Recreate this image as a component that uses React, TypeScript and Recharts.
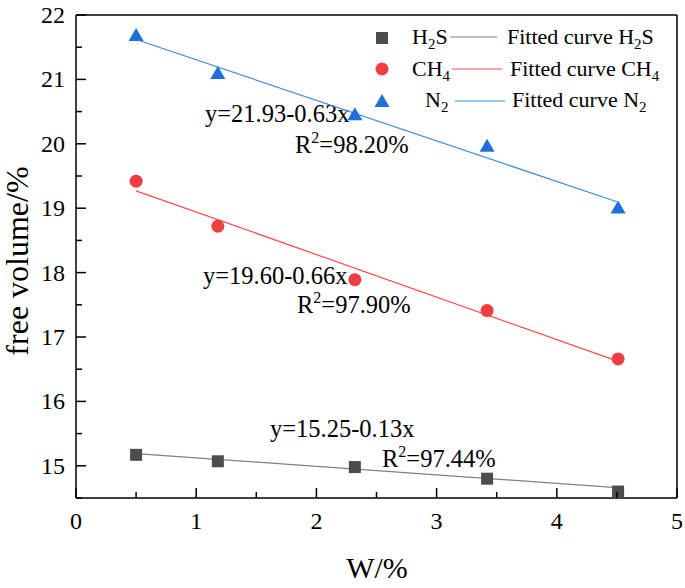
import React from 'react'
import {ComposedChart, Customized, Line, ReferenceLine, Scatter, XAxis, YAxis} from 'recharts'

const xValues = [0.5, 1.18, 2.32, 3.42, 4.51]
const h2sValues = [15.17, 15.07, 14.98, 14.80, 14.60]
const ch4Values = [19.42, 18.72, 17.89, 17.41, 16.66]
const n2Values = [21.69, 21.10, 20.46, 19.97, 19.01]

const fitX = [0.5, 4.5]
const fitH2S = [15.19, 14.66]
const fitCH4 = [19.27, 16.63]
const fitN2 = [21.62, 19.10]

const xTicks = [0, 0.5, 1, 1.5, 2, 2.5, 3, 3.5, 4, 4.5, 5]
const yTicks = [14.5, 15, 15.5, 16, 16.5, 17, 17.5, 18, 18.5, 19, 19.5, 20, 20.5, 21, 21.5, 22]

const FONT = '"Liberation Serif", "Times New Roman", serif'

const toPoints = (xs: number[], ys: number[]) => xs.map((x, i) => ({x, y: ys[i]}))

const XTick = (props: any) => {
    const {x, y, payload} = props
    const major = Number.isInteger(payload.value)
    return (
        <g>
            <line x1={x} x2={x} y1={y} y2={y - (major ? 10 : 6)} stroke='#000' strokeWidth={1.5}/>
            {major && <text x={x} y={y + 31} textAnchor='middle' fontFamily={FONT} fontSize={24} fill='#000'>{payload.value}</text>}
        </g>
    )
}

const YTick = (props: any) => {
    const {x, y, payload} = props
    const major = Number.isInteger(payload.value)
    return (
        <g>
            <line x1={x} x2={x + (major ? 10 : 6)} y1={y} y2={y} stroke='#000' strokeWidth={1.5}/>
            {major && <text x={x - 11} y={y + 8} textAnchor='end' fontFamily={FONT} fontSize={24} fill='#000'>{payload.value}</text>}
        </g>
    )
}

const Square = (props: any) => <rect x={props.cx - 6} y={props.cy - 6} width={12} height={12} fill='#4d4d4d'/>
const Dot = (props: any) => <circle cx={props.cx} cy={props.cy} r={6.5} fill='#ef3e42'/>
const Tri = (props: any) => (
    <polygon points={`${props.cx},${props.cy - 7} ${props.cx - 7.5},${props.cy + 6} ${props.cx + 7.5},${props.cy + 6}`} fill='#1e6fdc'/>
)

// text with a subscript, then optional trailing text
const SubText = (props: {x: number, y: number, pre: string, sub: string, post?: string}) => (
    <text x={props.x} y={props.y} fontSize={22}>
        {props.pre}
        <tspan dy={5} fontSize={15}>{props.sub}</tspan>
        {props.post && <tspan dy={-5}>{props.post}</tspan>}
    </text>
)

const RSquared = (props: {x: number, y: number, value: string}) => (
    <text x={props.x} y={props.y} fontSize={24.5}>
        R<tspan dy={-10} fontSize={16}>2</tspan><tspan dy={10}>{'=' + props.value}</tspan>
    </text>
)

const Overlay = () => (
    <g fontFamily={FONT} fill='#000'>
        {/* axis titles */}
        <text x={377} y={578} textAnchor='middle' fontSize={30}>W/%</text>
        <text x={0} y={0} transform='translate(28,261) rotate(-90)' textAnchor='middle' fontSize={32}>free volume/%</text>

        {/* fit equations */}
        <text x={205} y={122} fontSize={24.5}>y=21.93-0.63x</text>
        <RSquared x={295} y={153} value='98.20%'/>
        <text x={203} y={284} fontSize={24.5}>y=19.60-0.66x</text>
        <RSquared x={297} y={313} value='97.90%'/>
        <text x={270} y={437} fontSize={24.5}>y=15.25-0.13x</text>
        <RSquared x={382} y={467} value='97.44%'/>

        {/* legend */}
        <rect x={376} y={32} width={12} height={12} fill='#4d4d4d'/>
        <SubText x={412} y={44} pre='H' sub='2' post='S'/>
        <line x1={450} x2={497} y1={37} y2={37} stroke='#808080' strokeWidth={1.2}/>
        <SubText x={507} y={44} pre='Fitted curve H' sub='2' post='S'/>

        <circle cx={382} cy={69} r={6.5} fill='#ef3e42'/>
        <SubText x={412} y={76} pre='CH' sub='4'/>
        <line x1={452} x2={502} y1={69} y2={69} stroke='#ff4a4a' strokeWidth={1.2}/>
        <SubText x={510} y={76} pre='Fitted curve CH' sub='4'/>

        <polygon points='382,94 374.5,107 389.5,107' fill='#1e6fdc'/>
        <SubText x={425} y={107} pre='N' sub='2'/>
        <line x1={455} x2={505} y1={101} y2={101} stroke='#3b8de8' strokeWidth={1.2}/>
        <SubText x={512} y={107} pre='Fitted curve N' sub='2'/>
    </g>
)

const App = () => {
    return (
        <div style={{width: 685, height: 588}}>
            <style>{'body{margin:0}'}</style>
            <ComposedChart width={685} height={588} margin={{top: 15, right: 8, bottom: 50, left: 0}}>
                <XAxis
                    type='number'
                    dataKey='x'
                    domain={[0, 5]}
                    ticks={xTicks}
                    interval={0}
                    tickSize={0}
                    tickMargin={0}
                    tick={<XTick/>}
                    tickLine={false}
                    height={40}
                    axisLine={{stroke: '#000', strokeWidth: 1.5}}
                    allowDataOverflow
                />
                <YAxis
                    type='number'
                    domain={[14.5, 22]}
                    ticks={yTicks}
                    interval={0}
                    tickSize={0}
                    tickMargin={0}
                    tick={<YTick/>}
                    tickLine={false}
                    width={76}
                    axisLine={{stroke: '#000', strokeWidth: 1.5}}
                    allowDataOverflow
                />
                <ReferenceLine y={22} stroke='#000' strokeWidth={1.5}/>
                <ReferenceLine x={5} stroke='#000' strokeWidth={1.5}/>

                <Line data={toPoints(fitX, fitH2S)} dataKey='y' stroke='#808080' strokeWidth={1.2} dot={false} isAnimationActive={false}/>
                <Line data={toPoints(fitX, fitCH4)} dataKey='y' stroke='#ff4a4a' strokeWidth={1.2} dot={false} isAnimationActive={false}/>
                <Line data={toPoints(fitX, fitN2)} dataKey='y' stroke='#3b8de8' strokeWidth={1.2} dot={false} isAnimationActive={false}/>

                <Scatter data={toPoints(xValues, h2sValues)} dataKey='y' shape={<Square/>} isAnimationActive={false}/>
                <Scatter data={toPoints(xValues, ch4Values)} dataKey='y' shape={<Dot/>} isAnimationActive={false}/>
                <Scatter data={toPoints(xValues, n2Values)} dataKey='y' shape={<Tri/>} isAnimationActive={false}/>

                <Customized component={<Overlay/>}/>
            </ComposedChart>
        </div>
    )
}

export default App
